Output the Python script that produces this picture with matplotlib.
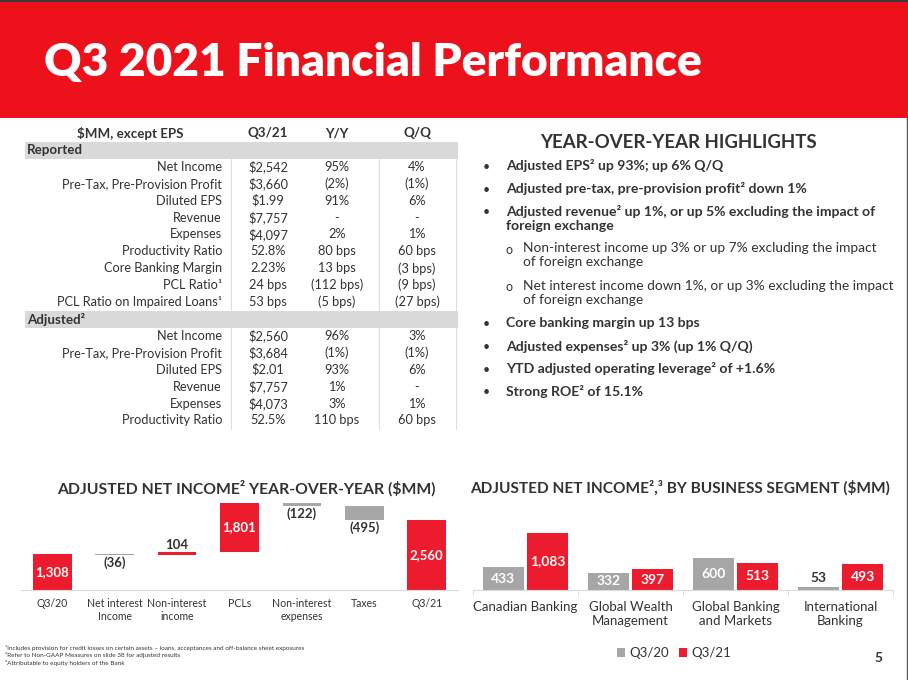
import matplotlib.pyplot as plt
from matplotlib.patches import Rectangle
import numpy as np

plt.rcParams['font.family'] = ['Lato', 'DejaVu Sans']

###
# DATA
###
TITLE = 'Q3 2021 Financial Performance'

TABLE_HEAD = ['$MM, except EPS', 'Q3/21', 'Y/Y', 'Q/Q']
rep_labels = ['Net Income', 'Pre-Tax, Pre-Provision Profit', 'Diluted EPS', 'Revenue',
              'Expenses', 'Productivity Ratio', 'Core Banking Margin', 'PCL Ratio¹',
              'PCL Ratio on Impaired Loans¹']
rep_q321 = ['$2,542', '$3,660', '$1.99', '$7,757', '$4,097', '52.8%', '2.23%', '24 bps', '53 bps']
rep_yy = ['95%', '(2%)', '91%', '-', '2%', '80 bps', '13 bps', '(112 bps)', '(5 bps)']
rep_qq = ['4%', '(1%)', '6%', '-', '1%', '60 bps', '(3 bps)', '(9 bps)', '(27 bps)']

adj_labels = ['Net Income', 'Pre-Tax, Pre-Provision Profit', 'Diluted EPS', 'Revenue',
              'Expenses', 'Productivity Ratio']
adj_q321 = ['$2,560', '$3,684', '$2.01', '$7,757', '$4,073', '52.5%']
adj_yy = ['96%', '(1%)', '93%', '1%', '3%', '110 bps']
adj_qq = ['3%', '(1%)', '6%', '-', '1%', '60 bps']

highlights = [
    (0, 'Adjusted EPS² up 93%; up 6% Q/Q'),
    (0, 'Adjusted pre-tax, pre-provision profit² down 1%'),
    (0, 'Adjusted revenue² up 1%, or up 5% excluding the impact of\nforeign exchange'),
    (1, 'Non-interest income up 3% or up 7% excluding the impact\nof foreign exchange'),
    (1, 'Net interest income down 1%, or up 3% excluding the impact\nof foreign exchange'),
    (0, 'Core banking margin up 13 bps'),
    (0, 'Adjusted expenses² up 3% (up 1% Q/Q)'),
    (0, 'YTD adjusted operating leverage² of +1.6%'),
    (0, 'Strong ROE² of 15.1%'),
]

wf_cats = ['Q3/20', 'Net interest\nIncome', 'Non-interest\nincome', 'PCLs',
           'Non-interest\nexpenses', 'Taxes', 'Q3/21']
wf_start = 1308
wf_deltas = [-36, 104, 1801, -122, -495]
wf_end = 2560

seg_cats = ['Canadian Banking', 'Global Wealth\nManagement', 'Global Banking\nand Markets',
            'International\nBanking']
seg_q320 = [433, 332, 600, 53]
seg_q321 = [1083, 397, 513, 493]

footnotes = ['¹Includes provision for credit losses on certain assets – loans, acceptances and off-balance sheet exposures',
             '²Refer to Non-GAAP Measures on slide 38 for adjusted results',
             '³Attributable to equity holders of the Bank']

RED = '#EC111A'
BAR_RED = '#EC1C2E'
GRAY = '#A6A6A6'
DARK = '#333333'
W, H = 908, 680
TF = 9.2  # table font size

fig = plt.figure(figsize=(W / 100, H / 100), dpi=100)
bg = fig.add_axes([0, 0, 1, 1])
bg.set_xlim(0, W)
bg.set_ylim(H, 0)
bg.axis('off')

# header
bg.add_patch(Rectangle((0, 0), W, 118, color=RED, lw=0))
bg.add_patch(Rectangle((0, 0), W, 2, color='#3a3a3a', lw=0))
bg.text(44, 62, TITLE, color='white', fontsize=33.2, fontweight='heavy', va='center', ha='left')
bg.plot([906.5, 906.5], [118, 680], color='#555555', lw=1)

###
# TABLE
###
STEP = 16.9
cx = [130, 268, 337, 417]
for x, t in zip(cx, TABLE_HEAD):
    bg.text(x, 133, t, ha='center', va='center', fontsize=TF + 0.4, fontweight='bold', color=DARK)


def section(y0, name, labels, q, yy, qq):
    bg.add_patch(Rectangle((25, y0 - 8.5), 433, 17, color='#D9D9D9', lw=0))
    bg.text(27, y0, name, ha='left', va='center', fontsize=TF + 0.4, fontweight='bold', color=DARK)
    ys = y0 + STEP * (np.arange(len(labels)) + 1)
    for y, l, a, b, c in zip(ys, labels, q, yy, qq):
        bg.text(222, y, l, ha='right', va='center', fontsize=TF, color=DARK)
        bg.text(cx[1], y, a, ha='center', va='center', fontsize=TF, color=DARK)
        bg.text(cx[2], y, b, ha='center', va='center', fontsize=TF, color=DARK)
        bg.text(cx[3], y, c, ha='center', va='center', fontsize=TF, color=DARK)
    for x in [231, 379, 456]:
        bg.plot([x, x], [y0 + 8.5, ys[-1] + 8.5], color='#DDDDDD', lw=0.8)
    return ys[-1]


last = section(150, 'Reported', rep_labels, rep_q321, rep_yy, rep_qq)
section(last + STEP, 'Adjusted²', adj_labels, adj_q321, adj_yy, adj_qq)

###
# HIGHLIGHTS
###
bg.text(678, 142, 'YEAR-OVER-YEAR HIGHLIGHTS', ha='center', va='center', fontsize=13.4,
        fontweight='bold', color=DARK)
y = 167
for lvl, txt in highlights:
    nlines = txt.count('\n') + 1
    if lvl == 0:
        bg.text(486, y, '•', ha='center', va='center', fontsize=9, color=DARK)
        bg.text(506, y - 7.5, txt, ha='left', va='top', fontsize=10.1, fontweight='bold',
                color=DARK, linespacing=1.2)
    else:
        bg.text(509, y, 'o', ha='center', va='center', fontsize=9, color=DARK)
        bg.text(523, y - 7.5, txt, ha='left', va='top', fontsize=9.95, color=DARK, linespacing=1.2)
    y += 22.5 + 15 * (nlines - 1)

###
# WATERFALL
###
bg.text(246, 488, 'ADJUSTED NET INCOME² YEAR-OVER-YEAR ($MM)', ha='center', va='center',
        fontsize=11.3, fontweight='bold', color=DARK)
scale_wf = 0.0275
ax1 = fig.add_axes([21 / W, 1 - 590 / H, 437 / W, 95 / H])
ax1.set_xlim(-0.5, 6.5)
ax1.set_ylim(0, 95 / scale_wf)
ax1.patch.set_alpha(0)
levels = wf_start + np.cumsum(wf_deltas)
prev = np.concatenate([[wf_start], levels[:-1]])
bw = 0.62
ax1.bar(0, wf_start, bw, color=BAR_RED)
ax1.bar(6, wf_end, bw, color=BAR_RED)
ax1.text(0, wf_start / 2, f'{wf_start:,}', ha='center', va='center', color='white',
         fontsize=9.5, fontweight='bold')
ax1.text(6, wf_end / 2, f'{wf_end:,}', ha='center', va='center', color='white',
         fontsize=9.5, fontweight='bold')
for i, (d, p) in enumerate(zip(wf_deltas, prev), start=1):
    lo = min(p, p + d)
    col = BAR_RED if d > 0 else GRAY
    ax1.bar(i, max(abs(d), 40), bw, bottom=lo, color=col)
    if abs(d) > 1000:
        ax1.text(i, lo + abs(d) / 2, f'{d:,}', ha='center', va='center', color='white',
                 fontsize=9.5, fontweight='bold')
    elif d > 0:
        ax1.text(i, lo + abs(d) + 40, f'{d:,}', ha='center', va='bottom', color=DARK,
                 fontsize=9.5, fontweight='bold')
    else:
        ax1.text(i, lo - 60, f'({abs(d):,})', ha='center', va='top', color=DARK,
                 fontsize=9.5, fontweight='bold')
ax1.set_xticks(range(len(wf_cats)), wf_cats, fontsize=7.6, color=DARK)
ax1.tick_params(axis='x', length=0, pad=6)
ax1.set_yticks([])
for s in ['left', 'right', 'top']:
    ax1.spines[s].set_visible(False)
ax1.spines['bottom'].set_color('#D9D9D9')

###
# SEGMENT BARS
###
bg.text(680, 488, 'ADJUSTED NET INCOME²,³ BY BUSINESS SEGMENT ($MM)', ha='center', va='center',
        fontsize=11.1, fontweight='bold', color=DARK)
scale_seg = 0.0527
ax2 = fig.add_axes([473 / W, 1 - 590 / H, 420 / W, 90 / H])
ax2.set_xlim(-0.5, 3.5)
ax2.set_ylim(0, 90 / scale_seg)
ax2.patch.set_alpha(0)
x = np.arange(len(seg_cats))
ax2.bar(x - 0.21, seg_q320, 0.385, color=GRAY, label='Q3/20')
ax2.bar(x + 0.21, seg_q321, 0.385, color=BAR_RED, label='Q3/21')
for xi, a, b in zip(x, seg_q320, seg_q321):
    if a > 150:
        ax2.text(xi - 0.21, a / 2, f'{a:,}', ha='center', va='center', color='white',
                 fontsize=10, fontweight='bold')
    else:
        ax2.text(xi - 0.21, a + 60, f'{a:,}', ha='center', va='bottom', color=DARK,
                 fontsize=10, fontweight='bold')
    ax2.text(xi + 0.21, b / 2, f'{b:,}', ha='center', va='center', color='white',
             fontsize=10, fontweight='bold')
ax2.set_xticks(x, seg_cats, fontsize=9.5, color=DARK)
ax2.set_xticks(np.arange(-0.5, 4, 1), minor=True)
ax2.tick_params(axis='x', which='major', length=0, pad=8)
ax2.tick_params(axis='x', which='minor', length=4, color='#D9D9D9')
ax2.set_yticks([])
for s in ['left', 'right', 'top']:
    ax2.spines[s].set_visible(False)
ax2.spines['bottom'].set_color('#D9D9D9')
ax2.legend(loc='center', bbox_to_anchor=((674 - 473) / 420, -(653 - 590) / 90), ncol=2,
           frameon=False, fontsize=9.5, handlelength=0.6, handleheight=0.6,
           handletextpad=0.3, columnspacing=0.8, labelcolor=DARK)

bg.text(878, 658, '5', ha='center', va='center', fontsize=10, fontweight='bold', color=DARK)

for i, t in enumerate(footnotes):
    bg.text(5, 648 + 7.5 * i, t, ha='left', va='center', fontsize=4.6, color=DARK)

fig.savefig('out.png', dpi=100)
